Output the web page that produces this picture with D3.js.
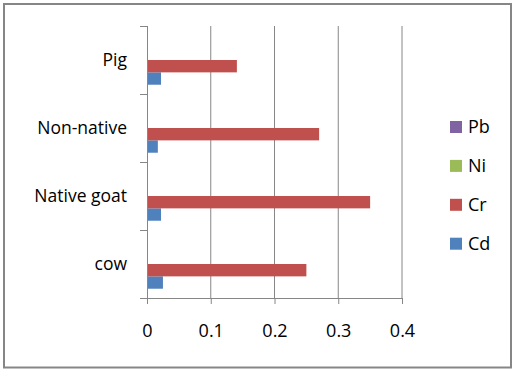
<!DOCTYPE html>
<html>
<head>
<meta charset="utf-8">
<script src="https://cdn.jsdelivr.net/npm/d3@7"></script>
<style>
  body { margin: 0; background: #fff; }
  text { font-family: "Open Sans", sans-serif; fill: #000; }
</style>
</head>
<body>
<svg id="chart"></svg>
<script>
// Data
const categories = ["cow", "Native goat", "Non-native", "Pig"];
const series = ["Cd", "Cr", "Ni", "Pb"];
const cdValues = [0.025, 0.022, 0.017, 0.022];
const crValues = [0.25, 0.35, 0.27, 0.141];
const niValues = [0, 0, 0, 0];
const pbValues = [0, 0, 0, 0];
const xTicks = [0, 0.1, 0.2, 0.3, 0.4];

const colors = {Cd: "#4F81BD", Cr: "#C0504D", Ni: "#9BBB59", Pb: "#8064A2"};
const valuesBySeries = {Cd: cdValues, Cr: crValues, Ni: niValues, Pb: pbValues};

const W = 514, H = 372;
const plot = {left: 147, right: 402, top: 26, bottom: 298};

const svg = d3.select("#chart")
    .attr("width", W)
    .attr("height", H);

// outer frame
svg.append("rect")
    .attr("x", 4).attr("y", 4)
    .attr("width", 507).attr("height", 363.5)
    .attr("fill", "#fff")
    .attr("stroke", "#868686")
    .attr("stroke-width", 2);

const x = d3.scaleLinear()
    .domain([0, 0.4])
    .range([plot.left, plot.right]);

// categories from bottom (cow) to top (Pig)
const y = d3.scaleBand()
    .domain(categories)
    .range([plot.bottom, plot.top])
    .padding(0);

// inside a band: Pb on top, Cd at the bottom
const yInner = d3.scaleBand()
    .domain(["Pb", "Ni", "Cr", "Cd"])
    .range([0, y.bandwidth()])
    .paddingInner(0)
    .paddingOuter(0.75);

// vertical gridlines
svg.append("g")
  .selectAll("line")
  .data(xTicks.filter(d => d > 0))
  .enter()
  .append("line")
    .attr("x1", d => x(d)).attr("x2", d => x(d))
    .attr("y1", plot.top).attr("y2", plot.bottom)
    .attr("stroke", "#868686")
    .attr("stroke-width", 1);

// bars
const rows = [];
categories.forEach((c, i) => {
  series.forEach(s => rows.push({cat: c, s: s, v: valuesBySeries[s][i]}));
});

svg.append("g")
  .selectAll("rect")
  .data(rows.filter(d => d.v > 0))
  .enter()
  .append("rect")
    .attr("x", x(0))
    .attr("y", d => y(d.cat) + yInner(d.s))
    .attr("width", d => x(d.v) - x(0))
    .attr("height", yInner.bandwidth())
    .attr("fill", d => colors[d.s]);

// x axis
const xAxis = svg.append("g")
    .attr("transform", `translate(0,${plot.bottom})`)
    .call(d3.axisBottom(x).tickValues(xTicks).tickSize(6).tickSizeOuter(0)
      .tickFormat(d => d === 0 ? "0" : d3.format(".1f")(d)));
xAxis.select(".domain").attr("stroke", "#868686");
xAxis.selectAll(".tick line").attr("stroke", "#868686");
xAxis.selectAll(".tick text")
    .attr("y", 39).attr("dy", 0)
    .style("font-family", "'Open Sans', sans-serif")
    .style("font-size", "18px")
    .attr("fill", "#000");

// y axis: ticks sit on band boundaries
const yAxisG = svg.append("g");
yAxisG.append("line")
    .attr("x1", plot.left + 0.5).attr("x2", plot.left + 0.5)
    .attr("y1", plot.top).attr("y2", plot.bottom)
    .attr("stroke", "#868686");
const bounds = categories.map(c => y(c)).concat([plot.bottom]);
yAxisG.selectAll("line.tk")
  .data(bounds)
  .enter()
  .append("line")
    .attr("class", "tk")
    .attr("x1", plot.left - 7).attr("x2", plot.left)
    .attr("y1", d => d + 0.5).attr("y2", d => d + 0.5)
    .attr("stroke", "#868686");

yAxisG.selectAll("text")
  .data(categories)
  .enter()
  .append("text")
    .attr("x", 127)
    .attr("y", d => y(d) + y.bandwidth() / 2)
    .attr("dy", "0.36em")
    .attr("text-anchor", "end")
    .style("font-size", "17.5px")
    .text(d => d);

// legend
const legendOrder = ["Pb", "Ni", "Cr", "Cd"];
const legend = svg.append("g")
  .selectAll("g")
  .data(legendOrder)
  .enter()
  .append("g")
    .attr("transform", (d, i) => `translate(450,${127 + i * 38.9})`);
legend.append("rect")
    .attr("x", 0).attr("y", -6)
    .attr("width", 12).attr("height", 12)
    .attr("fill", d => colors[d]);
legend.append("text")
    .attr("x", 18)
    .attr("dy", "0.36em")
    .style("font-size", "18px")
    .text(d => d);
</script>
</body>
</html>
